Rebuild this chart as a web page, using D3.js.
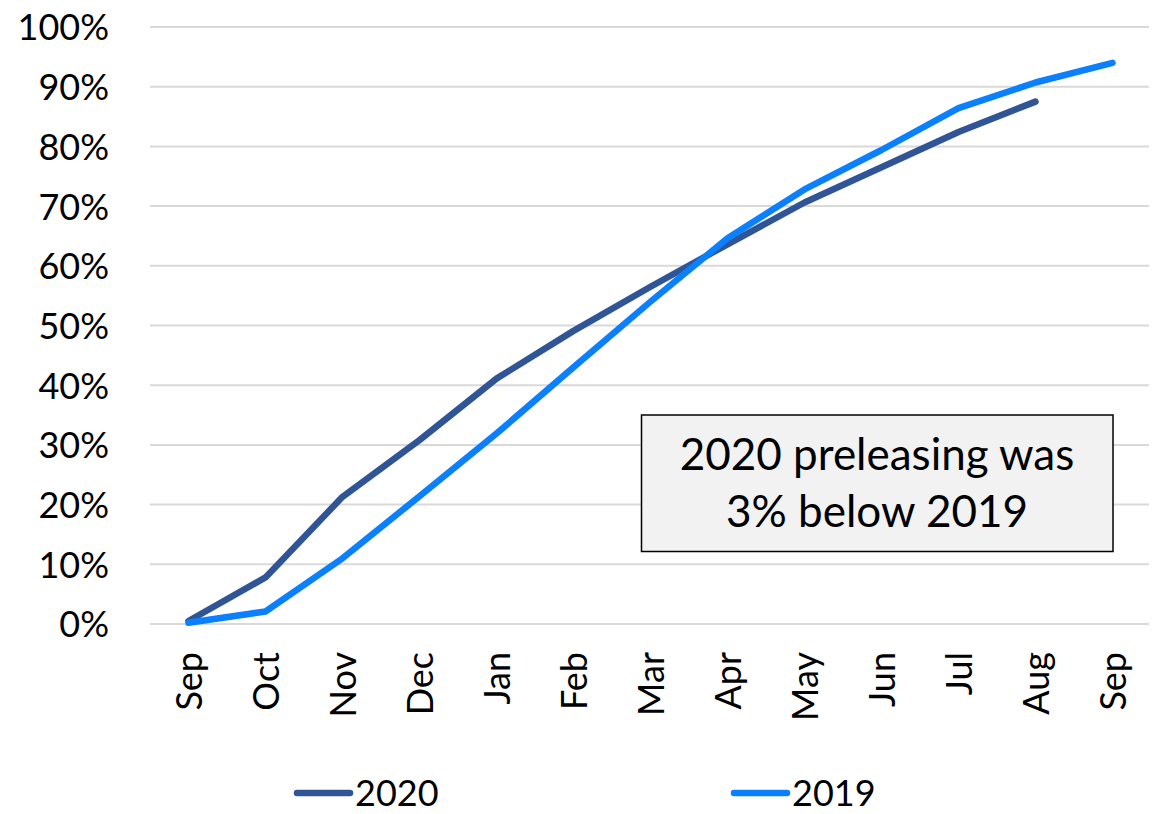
<!DOCTYPE html>
<html><head><meta charset="utf-8">
<script src="https://cdn.jsdelivr.net/npm/d3@7"></script>
<style>
html,body{margin:0;padding:0;background:#fff;}
text{font-family:Lato, "Open Sans", sans-serif;fill:#000;}
</style></head>
<body>
<svg id="c" width="1153" height="814"></svg>
<script>
const months = ["Sep","Oct","Nov","Dec","Jan","Feb","Mar","Apr","May","Jun","Jul","Aug","Sep"];
const series2020 = [0.5, 7.8, 21.3, 30.8, 41.1, 49.1, 56.5, 63.6, 70.6, 76.5, 82.4, 87.5];
const series2019 = [0.2, 2.1, 11.0, 21.4, 31.9, 43.0, 54.0, 64.6, 72.8, 79.4, 86.4, 90.7, 94.0];
const yTicks = [0,10,20,30,40,50,60,70,80,90,100];
const seriesNames = ["2020","2019"];
const noteLines = ["2020 preleasing was","3% below 2019"];

const svg = d3.select("#c");
const x = d3.scalePoint().domain(d3.range(months.length)).range([150,1151]).padding(0.5);
const y = d3.scaleLinear().domain([0,100]).range([624,27]);
const colors = ["#2F5597","#0A80FF"];

// gridlines
svg.append("g").selectAll("line").data(yTicks).join("line")
  .attr("x1",150).attr("x2",1149)
  .attr("y1",d=>y(d)).attr("y2",d=>y(d))
  .attr("stroke","#d9d9d9").attr("stroke-width",2);

// y axis labels
const yAxis = d3.axisLeft(y).tickValues(yTicks).tickFormat(d=>d+"%").tickSize(0).tickPadding(0);
const gy = svg.append("g").attr("transform","translate(109,0)").call(yAxis);
gy.select(".domain").remove();
gy.selectAll("text").attr("font-size",36).attr("font-family","Lato").attr("dy","0.36em").attr("fill","#000");

// x axis labels
const xAxis = d3.axisBottom(x).tickFormat(i=>months[i]).tickSize(0).tickPadding(0);
const gx = svg.append("g").attr("transform","translate(0,652)").call(xAxis);
gx.select(".domain").remove();
gx.selectAll("text").attr("font-size",36).attr("font-family","Lato").attr("fill","#000")
  .attr("text-anchor","end").attr("transform","rotate(-90)").attr("x",0).attr("y",0).attr("dy","0.36em");

// lines
const line = d3.line().x((d,i)=>x(i)).y(d=>y(d));
[series2020, series2019].forEach((s,k)=>{
  svg.append("path").datum(s).attr("d",line).attr("fill","none")
    .attr("stroke",colors[k]).attr("stroke-width",6.5)
    .attr("stroke-linecap","round").attr("stroke-linejoin","round");
});

// note box
svg.append("rect").attr("x",641.5).attr("y",415).attr("width",471.5).attr("height",136.5)
  .attr("fill","#f2f2f2").attr("stroke","#000").attr("stroke-width",1.5);
svg.append("g").selectAll("text").data(noteLines).join("text")
  .attr("x",877).attr("y",(d,i)=>470+i*57).attr("text-anchor","middle")
  .attr("font-size",44).text(d=>d);

// legend
const legX = [297, 734];
seriesNames.forEach((n,k)=>{
  svg.append("line").attr("x1",legX[k]).attr("x2",legX[k]+53).attr("y1",793).attr("y2",793)
    .attr("stroke",colors[k]).attr("stroke-width",6.5).attr("stroke-linecap","round");
  svg.append("text").attr("x",legX[k]+58).attr("y",806).attr("font-size",36).text(n);
});
</script>
</body></html>
